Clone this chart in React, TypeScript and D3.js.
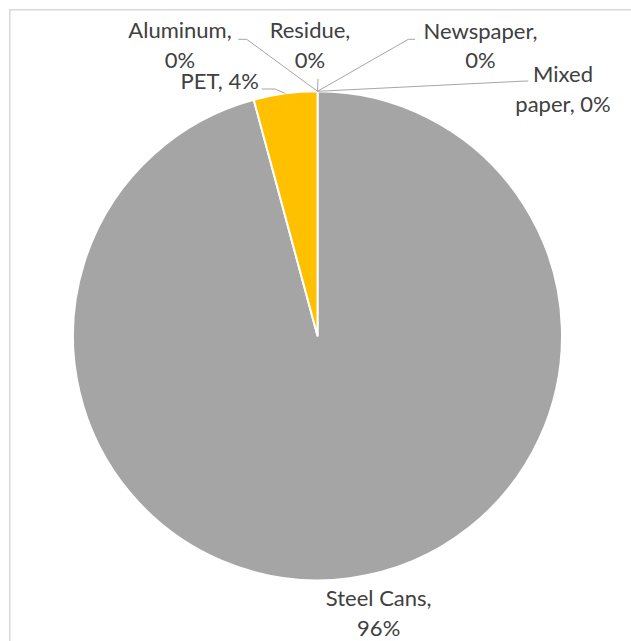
import React from "react";
import * as d3 from "d3";

const categories = ["Steel Cans", "PET", "Aluminum", "Residue", "Newspaper", "Mixed paper"];
const shares = [95.8, 4.2, 0, 0, 0, 0];
const colors = ["#a5a5a5", "#ffc000", "#5b9bd5", "#ed7d31", "#4472c4", "#70ad47"];

// label layout (page coordinates): x = text centre, y = first baseline, words per line, leader path points
const labelLayout: Record<string, { x: number; y: number; words: number[]; leader: [number, number][] }> = {
  "Steel Cans": { x: 378.7, y: 606, words: [2, 1], leader: [] },
  PET: { x: 219.7, y: 89.3, words: [2], leader: [[261.7, 89], [275, 89]] },
  Aluminum: { x: 180, y: 38, words: [1, 1], leader: [[238.3, 39.3], [246.7, 39.3]] },
  Residue: { x: 310, y: 38, words: [1, 1], leader: [[318, 79]] },
  Newspaper: { x: 480.5, y: 38.5, words: [1, 1], leader: [[415, 39.3], [408.3, 39.3]] },
  "Mixed paper": { x: 563, y: 82, words: [1, 2], leader: [[528.3, 81], [522, 81.2]] },
};

const W = 631;
const H = 641;
const cx = 317.5;
const cy = 335.8;
const R = 244.5;
const LINE_H = 29.5;
const FONT = "Lato, 'Open Sans', sans-serif";

export default function App() {
  const data = categories.map((c, i) => ({ name: c, value: shares[i], color: colors[i] }));
  const pie = d3
    .pie<{ name: string; value: number; color: string }>()
    .sort(null)
    .value((d) => d.value)
    .startAngle(0)
    .endAngle(2 * Math.PI);
  const arcs = pie(data);
  const arcGen = d3
    .arc<d3.PieArcDatum<{ name: string; value: number; color: string }>>()
    .innerRadius(0)
    .outerRadius(R);
  const edgeArc = d3
    .arc<d3.PieArcDatum<{ name: string; value: number; color: string }>>()
    .innerRadius(R)
    .outerRadius(R);
  const total = d3.sum(shares);

  return (
    <svg
      width={W}
      height={H}
      style={{ position: "absolute", left: 0, top: 0, background: "#fff" }}
    >
      <rect x={9.75} y={9.75} width={W + 20} height={H + 20} fill="#fff" stroke="#d9d9d9" strokeWidth={1.5} />
      <g transform={`translate(${cx},${cy})`}>
        {arcs
          .filter((a) => a.value > 0)
          .map((a) => (
            <path key={a.data.name} d={arcGen(a) || ""} fill={a.data.color} stroke="#fff" strokeWidth={2} strokeLinejoin="round" />
          ))}
      </g>
      {arcs.map((a) => {
        const lay = labelLayout[a.data.name];
        const [ax, ay] = edgeArc.centroid(a);
        const anchor: [number, number] = [cx + ax, cy + ay];
        const pts = lay.leader.length ? [...lay.leader, anchor] : [];
        const pct = Math.round((a.value / total) * 100);
        const words = `${a.data.name}, ${pct}%`.split(" ");
        const lines: string[] = [];
        let k = 0;
        lay.words.forEach((n) => {
          lines.push(words.slice(k, k + n).join(" "));
          k += n;
        });
        return (
          <g key={a.data.name}>
            {pts.length > 0 && (
              <path d={d3.line()(pts) || ""} fill="none" stroke="#a6a6a6" strokeWidth={1} />
            )}
            <text
              x={lay.x}
              y={lay.y}
              textAnchor="middle"
              fontFamily={FONT}
              fontSize={22}
              fill="#404040"
            >
              {lines.map((l, i) => (
                <tspan key={i} x={lay.x} y={lay.y + i * LINE_H}>
                  {l}
                </tspan>
              ))}
            </text>
          </g>
        );
      })}
    </svg>
  );
}
